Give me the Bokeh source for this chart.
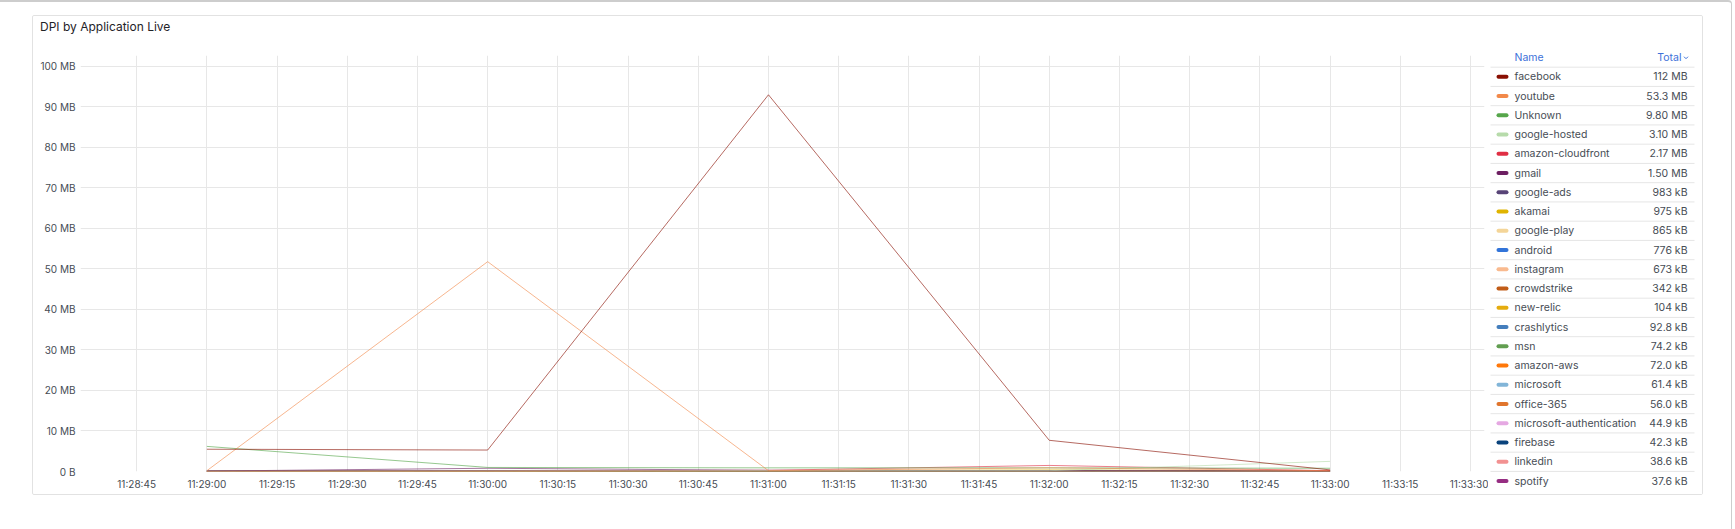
from datetime import datetime, timedelta
from bokeh.plotting import figure
from bokeh.models import Range1d, FixedTicker, DatetimeTickFormatter, ColumnDataSource
from bokeh.layouts import row, column
from bokeh.embed import file_html
from bokeh.resources import INLINE
from bokeh.core.properties import value

# ---------------- data ----------------
times = ["2024-01-01 11:29:00", "2024-01-01 11:30:00", "2024-01-01 11:31:00",
         "2024-01-01 11:32:00", "2024-01-01 11:33:00"]

names = ["facebook", "youtube", "Unknown", "google-hosted", "amazon-cloudfront", "gmail",
         "google-ads", "akamai", "google-play", "android", "instagram", "crowdstrike",
         "new-relic", "crashlytics", "msn", "amazon-aws", "microsoft", "office-365",
         "microsoft-authentication", "firebase", "linkedin", "spotify"]

totals = ["112 MB", "53.3 MB", "9.80 MB", "3.10 MB", "2.17 MB", "1.50 MB", "983 kB", "975 kB",
          "865 kB", "776 kB", "673 kB", "342 kB", "104 kB", "92.8 kB", "74.2 kB", "72.0 kB",
          "61.4 kB", "56.0 kB", "44.9 kB", "42.3 kB", "38.6 kB", "37.6 kB"]

colors = ["#890F02", "#F2894A", "#56A64B", "#B7DBAB", "#E02F44", "#6D1F62", "#584477",
          "#E0B400", "#F4D598", "#3274D9", "#F9BA8F", "#C15C17", "#E5AC0E", "#447EBC",
          "#629E51", "#FF780A", "#82B5D8", "#E0752D", "#E5A8E2", "#0A437C", "#F29191",
          "#962D82"]

# values in MB at each timestamp
facebook = [5.5, 5.3, 93.0, 7.7, 0.4]
youtube = [0.2, 51.8, 0.2, 0.9, 0.2]
unknown = [6.2, 1.0, 0.9, 0.9, 0.8]
google_hosted = [0.05, 0.1, 0.25, 0.2, 2.5]
amazon_cloudfront = [0.05, 0.12, 0.3, 1.5, 0.2]
gmail = [0.1, 0.8, 0.3, 0.2, 0.1]
google_ads = [0.2, 0.25, 0.2, 0.2, 0.133]
akamai = [0.1, 0.15, 0.2, 0.4, 0.125]
google_play = [0.1, 0.2, 0.2, 0.25, 0.115]
android = [0.15, 0.2, 0.15, 0.15, 0.126]
instagram = [0.1, 0.15, 0.2, 0.15, 0.073]
crowdstrike = [0.05, 0.08, 0.07, 0.1, 0.042]
new_relic = [0.02, 0.02, 0.02, 0.03, 0.014]
crashlytics = [0.02, 0.02, 0.02, 0.02, 0.0128]
msn = [0.015, 0.015, 0.015, 0.02, 0.0092]
amazon_aws = [0.01, 0.015, 0.015, 0.02, 0.012]
microsoft = [0.012, 0.012, 0.012, 0.015, 0.0104]
office_365 = [0.01, 0.012, 0.012, 0.014, 0.008]
microsoft_auth = [0.008, 0.01, 0.01, 0.01, 0.0069]
firebase = [0.008, 0.009, 0.009, 0.01, 0.0063]
linkedin = [0.007, 0.008, 0.008, 0.009, 0.0066]
spotify = [0.007, 0.008, 0.008, 0.008, 0.0066]

series = [facebook, youtube, unknown, google_hosted, amazon_cloudfront, gmail, google_ads,
          akamai, google_play, android, instagram, crowdstrike, new_relic, crashlytics, msn,
          amazon_aws, microsoft, office_365, microsoft_auth, firebase, linkedin, spotify]

y_ticks = [0, 10, 20, 30, 40, 50, 60, 70, 80, 90, 100]
y_tick_labels = ["0 B", "10 MB", "20 MB", "30 MB", "40 MB", "50 MB", "60 MB", "70 MB",
                 "80 MB", "90 MB", "100 MB"]

x_start = "2024-01-01 11:28:33"
x_end = "2024-01-01 11:33:33"
x_tick_first = "2024-01-01 11:28:45"
x_tick_count = 20
x_tick_step_s = 15

title_text = "DPI by Application Live"

# ---------------- styling ----------------
FONT = "Inter"
TEXT = "#464c54"
GRID = "#e7e7e7"

def ts(s):
    return datetime.strptime(s, "%Y-%m-%d %H:%M:%S")

def ms(d):
    return (d - datetime(1970, 1, 1)).total_seconds() * 1000.0

def no_frame_align(fig):
    try:
        fig.frame_align = False
    except Exception:
        pass

def blank(fig):
    fig.grid.visible = False
    fig.outline_line_color = None
    fig.background_fill_color = "white"
    fig.border_fill_color = "white"

xs = [ts(t) for t in times]

CW = 1455       # chart canvas width
TH = 26         # title strip height

# ---------------- title strip ----------------
tf = figure(width=CW, height=TH, x_range=Range1d(0, CW), y_range=Range1d(TH, 0),
            output_backend="svg", toolbar_location=None, min_border=0,
            x_axis_location=None, y_axis_location=None)
no_frame_align(tf)
blank(tf)
tf.text(x=[6.5], y=[10.2], text=[title_text], text_font=value(FONT), text_font_size="12px",
        text_color="#1f2328", text_baseline="middle", text_align="left")

# ---------------- chart ----------------
FW, FH = 1404, 416
p = figure(frame_width=FW, frame_height=FH, x_axis_type="datetime",
           x_range=Range1d(ts(x_start), ts(x_end)), y_range=Range1d(0, 102.7),
           output_backend="svg", toolbar_location=None,
           min_border_left=47, min_border_right=4, min_border_top=39 - TH, min_border_bottom=23)
no_frame_align(p)

p.outline_line_color = None
p.background_fill_color = "white"
p.border_fill_color = "white"

x_ticks = [ms(ts(x_tick_first) + timedelta(seconds=x_tick_step_s * i)) for i in range(x_tick_count)]
p.xaxis.ticker = FixedTicker(ticks=x_ticks)
p.xgrid.ticker = FixedTicker(ticks=x_ticks)
p.xaxis.formatter = DatetimeTickFormatter(seconds="%H:%M:%S", minsec="%H:%M:%S",
                                          minutes="%H:%M:%S", hourmin="%H:%M:%S",
                                          hours="%H:%M:%S", milliseconds="%H:%M:%S")
p.yaxis.ticker = FixedTicker(ticks=y_ticks)
p.yaxis.major_label_overrides = {t: l for t, l in zip(y_ticks, y_tick_labels)}

for ax in [p.xaxis[0], p.yaxis[0]]:
    ax.axis_line_color = None
    ax.major_tick_line_color = None
    ax.minor_tick_line_color = None
    ax.major_tick_out = 0
    ax.major_tick_in = 0
    ax.minor_tick_out = 0
    ax.major_label_text_font = FONT
    ax.major_label_text_font_size = "10px"
    ax.major_label_text_color = TEXT
p.yaxis.major_label_standoff = 5
p.xaxis.major_label_standoff = 6

p.xgrid.grid_line_color = GRID
p.ygrid.grid_line_color = GRID

for name, col, vals in reversed(list(zip(names, colors, series))):
    src = ColumnDataSource(dict(x=xs, y=vals))
    p.line("x", "y", source=src, line_color=col, line_width=1, line_alpha=0.62)

# ---------------- legend table ----------------
LW = 214
LH = 478
lg = figure(width=LW, height=LH, x_range=Range1d(0, LW), y_range=Range1d(LH, 0),
            output_backend="svg", toolbar_location=None, min_border=0,
            x_axis_location=None, y_axis_location=None)
no_frame_align(lg)
blank(lg)

row0 = 60.3
pitch = 19.25
n = len(names)
yc = [row0 + pitch * i for i in range(n)]

sep_y = [row0 - pitch / 2] + [y + pitch / 2 for y in yc[:-1]]
lg.segment(x0=[2] * len(sep_y), x1=[206] * len(sep_y), y0=sep_y, y1=sep_y,
           line_color="#e6e6e6", line_width=1)

HEAD = "#3d71d9"
lg.text(x=[26], y=[40.8], text=["Name"], text_font=value(FONT), text_font_size="10.5px",
        text_color=HEAD, text_baseline="middle", text_align="left")
lg.text(x=[193], y=[40.8], text=["Total"], text_font=value(FONT), text_font_size="10.5px",
        text_color=HEAD, text_baseline="middle", text_align="right")
lg.line(x=[195.5, 197.5, 199.5], y=[40.2, 42.2, 40.2], line_color=HEAD, line_width=1)

src_l = ColumnDataSource(dict(y=yc, name=names, total=totals, color=colors,
                              x0=[10] * n, x1=[18] * n, xn=[26] * n, xv=[199] * n))
lg.segment(x0="x0", x1="x1", y0="y", y1="y", line_color="color", line_width=4,
           line_cap="round", source=src_l)
lg.text(x="xn", y="y", text="name", text_font=value(FONT), text_font_size="10.5px",
        text_color=TEXT, text_baseline="middle", text_align="left", source=src_l)
lg.text(x="xv", y="y", text="total", text_font=value(FONT), text_font_size="10.5px",
        text_color=TEXT, text_baseline="middle", text_align="right", source=src_l)

left_part = column(tf, p)
panel = row(left_part, lg, margin=(13, 0, 0, 32),
            styles={"border": "1px solid #e2e2e2", "border-radius": "2px"})

out = column(panel, width=1732, height=560,
             styles={"border-top": "2px solid #cdcdcd", "border-right": "1px solid #cdcdcd",
                     "border-top-right-radius": "4px"})

open("out.html", "w").write(file_html(out, INLINE))
